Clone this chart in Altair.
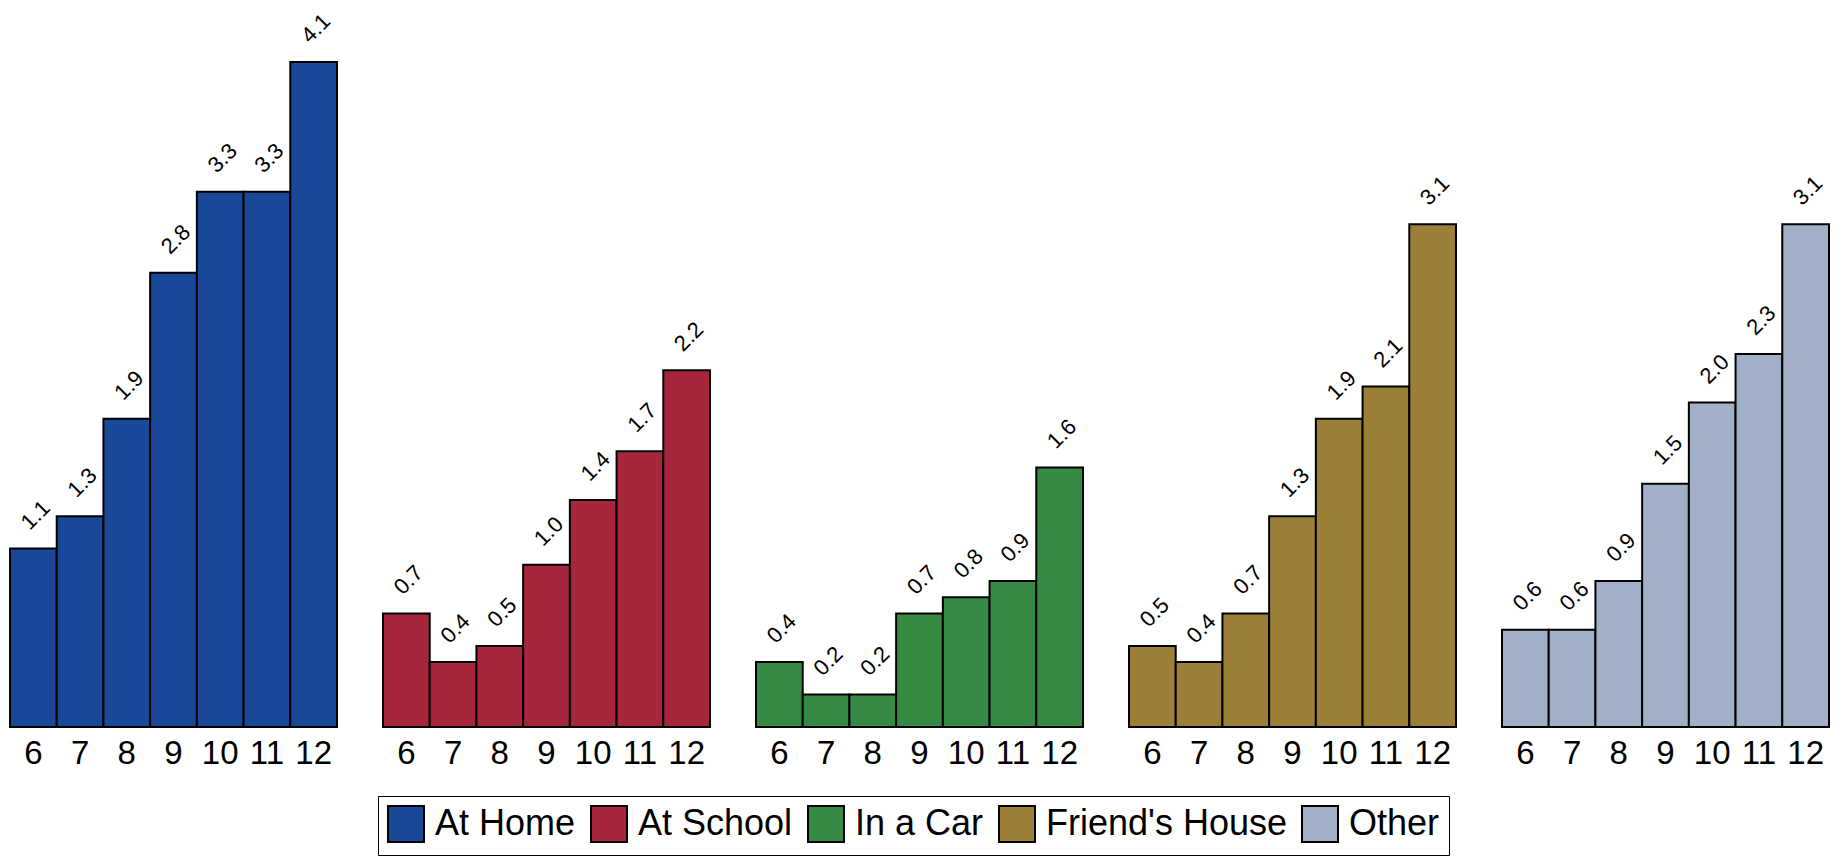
import altair as alt
import pandas as pd

locations = ["At Home", "At School", "In a Car", "Friend's House", "Other"]
ages = [6, 7, 8, 9, 10, 11, 12]
at_home = [1.1, 1.3, 1.9, 2.8, 3.3, 3.3, 4.1]
at_school = [0.7, 0.4, 0.5, 1.0, 1.4, 1.7, 2.2]
in_a_car = [0.4, 0.2, 0.2, 0.7, 0.8, 0.9, 1.6]
friends_house = [0.5, 0.4, 0.7, 1.3, 1.9, 2.1, 3.1]
other = [0.6, 0.6, 0.9, 1.5, 2.0, 2.3, 3.1]
colors = ["#1A4899", "#A6263B", "#378A43", "#9C7F36", "#A2B0C7"]

series = [at_home, at_school, in_a_car, friends_house, other]
rows = []
for loc, vals in zip(locations, series):
    for a, v in zip(ages, vals):
        rows.append({"location": loc, "age": a, "value": v})
df = pd.DataFrame(rows)

FONT = "Liberation Sans"

base = alt.Chart().encode(
    x=alt.X(
        "age:O",
        sort=ages,
        scale=alt.Scale(paddingInner=0, paddingOuter=0),
        axis=alt.Axis(title=None, labelAngle=0, ticks=False, domain=False,
                      labelFontSize=33, labelPadding=9, labelColor="black",
                      labelFont=FONT),
    ),
    y=alt.Y("value:Q", scale=alt.Scale(domain=[0, 4.433], nice=False, zero=True), axis=None),
)

bars = base.mark_bar(stroke="black", strokeWidth=2).encode(
    color=alt.Color(
        "location:N",
        scale=alt.Scale(domain=locations, range=colors),
        legend=alt.Legend(
            title=None, orient="none", legendX=368, legendY=788,
            direction="horizontal", symbolType="square", symbolSize=1296,
            symbolStrokeColor="black", symbolStrokeWidth=2, symbolOpacity=1,
            labelFontSize=36, labelFont=FONT, labelColor="black", labelLimit=400,
            strokeColor="black", fillColor="white", padding=9,
            columnPadding=11, labelOffset=10,
        ),
    )
)

text = base.mark_text(
    angle=315, align="left", baseline="alphabetic", dx=10, dy=-15,
    fontSize=22, font=FONT, color="black",
).encode(text=alt.Text("value:Q", format=".1f"))

chart = (
    alt.layer(bars, text, data=df)
    .properties(width=327, height=719)
    .facet(
        column=alt.Column("location:N", sort=locations,
                          header=alt.Header(title=None, labels=False)),
        spacing=44,
    )
    .configure_view(stroke=None)
    .properties(padding={"left": 1, "top": 0, "right": 1, "bottom": 0})
)

chart.save("out.html", embed_options={"renderer": "svg", "actions": False})
